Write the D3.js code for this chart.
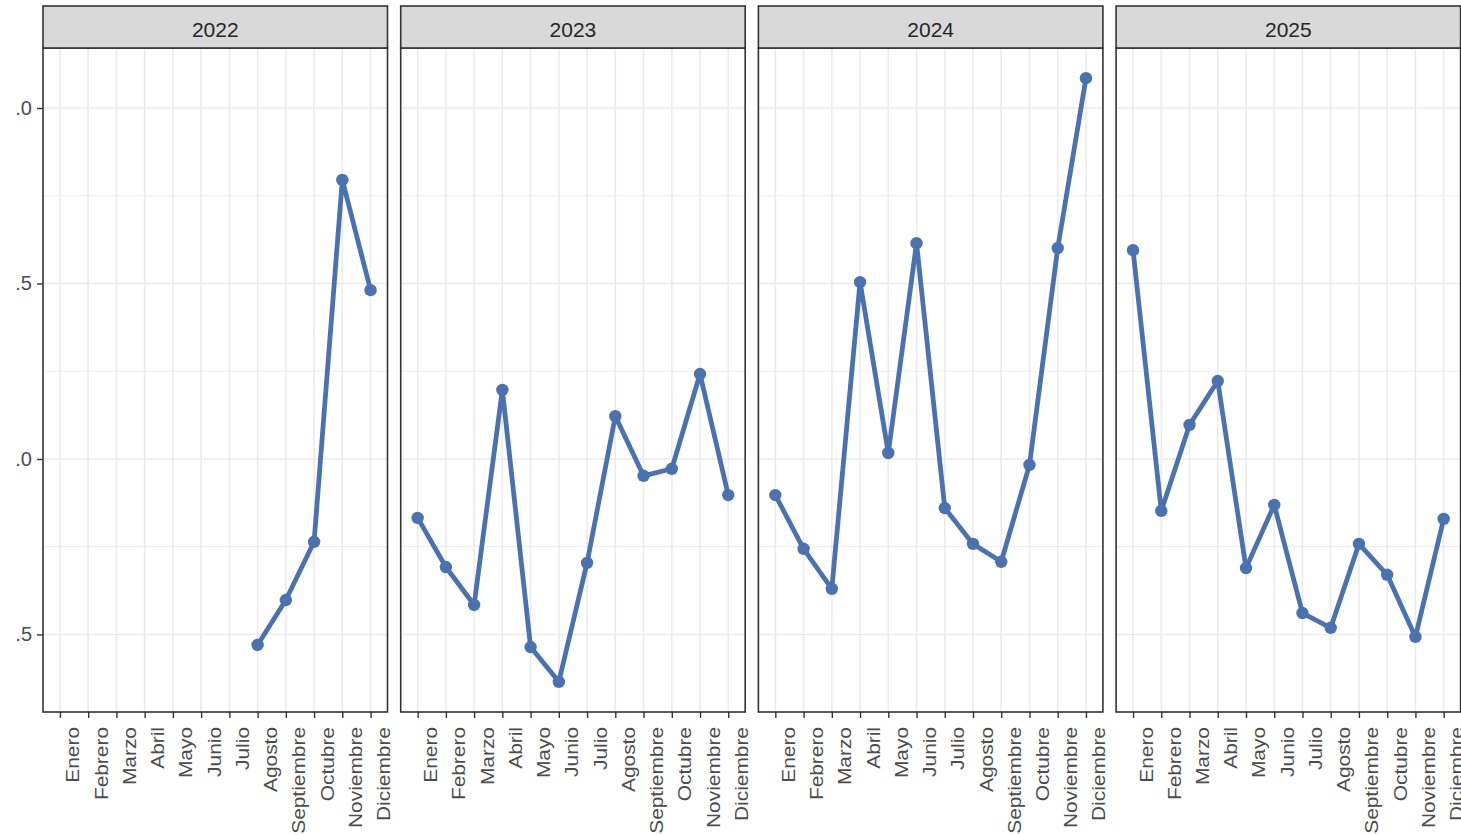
<!doctype html>
<html>
  <head>
    <meta charset="utf-8">
    <script src="https://cdn.jsdelivr.net/npm/d3@7"></script>
  <style>
    body { margin: 0; background: #fff; }
    text { font-family: "Liberation Sans", Arial, sans-serif; }
  </style>
  </head>
  <body>

    <svg width="1461" height="835"></svg>

  <script>

    // data
    let months = ["Enero", "Febrero", "Marzo", "Abril", "Mayo", "Junio",
                  "Julio", "Agosto", "Septiembre", "Octubre", "Noviembre", "Diciembre"]
    let years = ["2022", "2023", "2024", "2025"]

    let v2022 = [null, null, null, null, null, null, null, -0.530, -0.402, -0.236, 0.795, 0.481]
    let v2023 = [-0.168, -0.308, -0.416, 0.197, -0.536, -0.635, -0.296, 0.122, -0.048, -0.028, 0.242, -0.103]
    let v2024 = [-0.103, -0.256, -0.370, 0.504, 0.017, 0.615, -0.140, -0.242, -0.293, -0.017, 0.601, 1.085]
    let v2025 = [0.595, -0.148, 0.097, 0.222, -0.311, -0.131, -0.439, -0.481, -0.242, -0.330, -0.507, -0.171]

    let yMajor = [-0.5, 0, 0.5, 1.0]
    let yMinor = [-0.75, -0.25, 0.25, 0.75]

    let series = [v2022, v2023, v2024, v2025]

    let svg = d3.select("svg")

    let left = 43, panelW = 344.5, gap = 13.2
    let stripTop = 6, plotTop = 48, plotBottom = 712
    let lineColor = "#4a72b1"

    // y range like ggplot: data extent plus 5% each side
    let all = series.flat().filter(d => d != null)
    let ext = d3.extent(all)
    let pad = (ext[1] - ext[0]) * 0.05
    let y = d3.scaleLinear().domain([ext[0] - pad, ext[1] + pad]).range([plotBottom, plotTop])

    // y axis; the original image is cropped on the left, so clip the labels the same way
    svg.append("clipPath").attr("id", "ycrop")
      .append("rect").attr("x", 16).attr("y", 0).attr("width", 60).attr("height", 835)

    let yAxis = svg.append("g")
        .attr("clip-path", "url(#ycrop)")
      .append("g")
        .attr("transform", `translate(${left},0)`)
        .call(d3.axisLeft(y).tickValues(yMajor).tickFormat(d3.format(".1f")).tickSize(6).tickPadding(5))
    yAxis.select(".domain").remove()
    yAxis.selectAll(".tick line").attr("stroke", "#333").attr("stroke-width", 1.4)
    yAxis.selectAll(".tick text")
        .attr("fill", "#4d4d4d").attr("font-size", 20)
        .attr("font-family", "Liberation Sans, Arial, sans-serif")

    years.forEach(function(yr, i) {
      let x0 = left + i * (panelW + gap)
      let x = d3.scalePoint().domain(months).range([x0, x0 + panelW]).padding(0.6)

      let g = svg.append("g")

      // grid
      g.selectAll(".minor").data(yMinor.filter(v => y(v) > plotTop && y(v) < plotBottom)).enter().append("line")
        .attr("x1", x0).attr("x2", x0 + panelW)
        .attr("y1", d => y(d)).attr("y2", d => y(d))
        .attr("stroke", "#efefef").attr("stroke-width", 1.2)
      g.selectAll(".major").data(yMajor).enter().append("line")
        .attr("x1", x0).attr("x2", x0 + panelW)
        .attr("y1", d => y(d)).attr("y2", d => y(d))
        .attr("stroke", "#ebebeb").attr("stroke-width", 1.6)
      g.selectAll(".vgrid").data(months).enter().append("line")
        .attr("x1", d => x(d)).attr("x2", d => x(d))
        .attr("y1", plotTop).attr("y2", plotBottom)
        .attr("stroke", "#ebebeb").attr("stroke-width", 1.6)

      // series
      let pts = months.map((m, j) => ({ m: m, v: series[i][j] })).filter(d => d.v != null)
      let line = d3.line().x(d => x(d.m)).y(d => y(d.v))
      g.append("path").datum(pts)
        .attr("d", line)
        .attr("fill", "none")
        .attr("stroke", lineColor)
        .attr("stroke-width", 4.8)
        .attr("stroke-linejoin", "round")
      g.selectAll(".pt").data(pts).enter().append("circle")
        .attr("cx", d => x(d.m)).attr("cy", d => y(d.v))
        .attr("r", 6.2)
        .attr("fill", lineColor)

      // panel border
      g.append("rect")
        .attr("x", x0).attr("y", plotTop).attr("width", panelW).attr("height", plotBottom - plotTop)
        .attr("fill", "none").attr("stroke", "#333").attr("stroke-width", 1.6)

      // strip
      g.append("rect")
        .attr("x", x0).attr("y", stripTop).attr("width", panelW).attr("height", plotTop - stripTop)
        .attr("fill", "#d9d9d9").attr("stroke", "#333").attr("stroke-width", 1.6)
      g.append("text")
        .attr("x", x0 + panelW / 2).attr("y", (stripTop + plotTop) / 2 + 2)
        .attr("text-anchor", "middle").attr("dominant-baseline", "central")
        .attr("font-size", 21).attr("fill", "#262626")
        .text(yr)

      // x axis
      let xAxis = g.append("g")
          .attr("transform", `translate(0,${plotBottom})`)
          .call(d3.axisBottom(x).tickSize(6).tickFormat(""))
      xAxis.select(".domain").remove()
      xAxis.selectAll(".tick line").attr("stroke", "#333").attr("stroke-width", 1.4)

      g.selectAll(".xlab").data(months).enter().append("text")
        .attr("transform", d => `translate(${x(d) + 19.5},727) rotate(-90) scale(1.13,1)`)
        .attr("text-anchor", "end")
        .attr("font-size", 18.5)
        .attr("fill", "#4d4d4d")
        .text(d => d)
    })

  </script>
  </body>
</html>
